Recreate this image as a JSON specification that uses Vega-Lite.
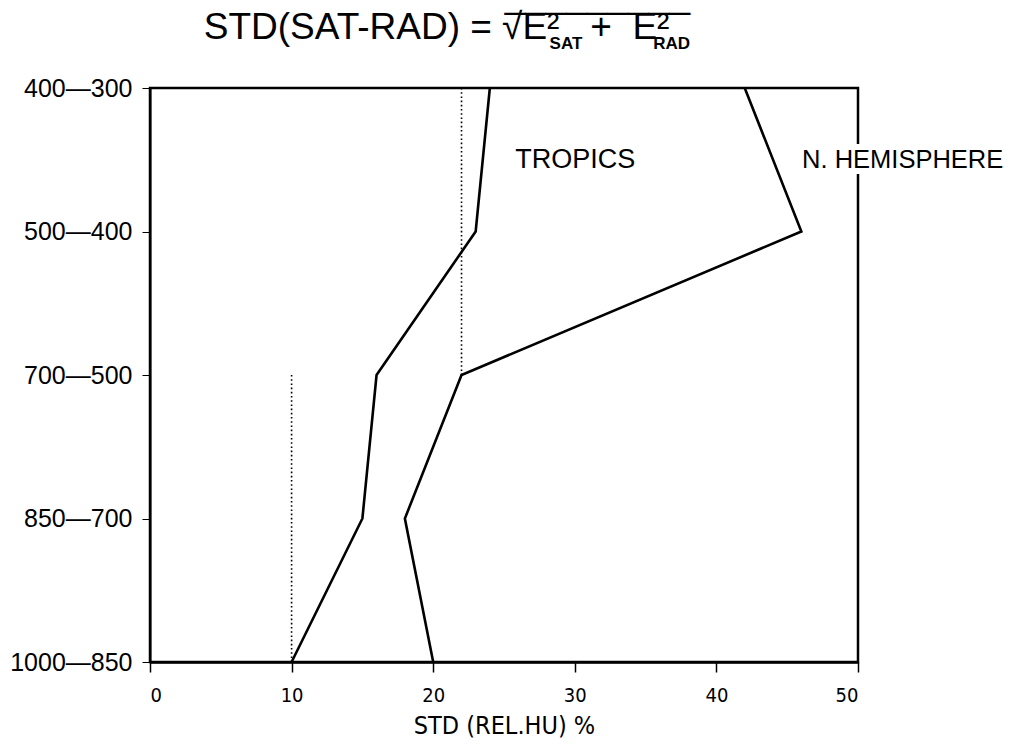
{
  "$schema": "https://vega.github.io/schema/vega-lite/v6.json",
  "width": 708,
  "height": 574,
  "autosize": {"type": "none"},
  "padding": {"left": 150, "top": 88, "right": 168, "bottom": 88},
  "background": "white",
  "title": {
    "text": ["_________", "STD(SAT-RAD) = √E²\u00a0\u00a0\u00a0+\u00a0 E²\u00a0\u00a0\u200b"],
    "subtitle": "SAT\u00a0\u00a0\u00a0\u00a0\u00a0\u00a0\u00a0\u00a0\u00a0\u00a0\u00a0\u00a0\u00a0\u00a0\u00a0RAD",
    "anchor": "end",
    "frame": "group",
    "dx": -168,
    "offset": 23,
    "font": "Liberation Sans",
    "fontSize": 37,
    "lineHeight": 31,
    "fontWeight": "normal",
    "color": "black",
    "subtitleFont": "Liberation Sans",
    "subtitleFontSize": 17,
    "subtitleFontWeight": "bold",
    "subtitleColor": "black",
    "subtitlePadding": -11
  },
  "config": {
    "view": {"stroke": "black", "strokeWidth": 2.5},
    "font": "Liberation Sans"
  },
  "datasets": {
    "profiles": [
      {"region": "TROPICS", "layer": "400—300", "k": 1, "std": 24},
      {"region": "TROPICS", "layer": "500—400", "k": 2, "std": 23},
      {"region": "TROPICS", "layer": "700—500", "k": 3, "std": 16},
      {"region": "TROPICS", "layer": "850—700", "k": 4, "std": 15},
      {"region": "TROPICS", "layer": "1000—850", "k": 5, "std": 10},
      {"region": "N. HEMISPHERE", "layer": "400—300", "k": 1, "std": 42},
      {"region": "N. HEMISPHERE", "layer": "500—400", "k": 2, "std": 46},
      {"region": "N. HEMISPHERE", "layer": "700—500", "k": 3, "std": 22},
      {"region": "N. HEMISPHERE", "layer": "850—700", "k": 4, "std": 18},
      {"region": "N. HEMISPHERE", "layer": "1000—850", "k": 5, "std": 20}
    ],
    "refs": [
      {"ref": "upper", "layer": "400—300", "k": 1, "std": 22},
      {"ref": "upper", "layer": "700—500", "k": 3, "std": 22},
      {"ref": "lower", "layer": "700—500", "k": 3, "std": 10},
      {"ref": "lower", "layer": "1000—850", "k": 5, "std": 10}
    ]
  },
  "layer": [
    {
      "data": {"name": "refs"},
      "mark": {"type": "line", "color": "black", "strokeWidth": 1.6, "strokeDash": [1.6, 2.6]},
      "encoding": {
        "x": {
          "field": "std",
          "type": "quantitative",
          "scale": {"domain": [0, 50], "nice": false, "zero": false},
          "axis": {
            "values": [0, 10, 20, 30, 40, 50],
            "grid": false,
            "domainColor": "black",
            "domainWidth": 2.5,
            "tickColor": "black",
            "tickWidth": 1.5,
            "tickSize": 10,
            "labelFont": "DejaVu Sans Condensed",
            "labelFontSize": 20,
            "labelColor": "black",
            "labelPadding": 13,
            "title": "STD (REL.HU) %",
            "titleFont": "DejaVu Sans Condensed",
            "titleFontSize": 25,
            "titleFontWeight": "normal",
            "titleColor": "black",
            "titlePadding": 8
          }
        },
        "y": {
          "field": "layer",
          "type": "ordinal",
          "sort": null,
          "scale": {
            "type": "point",
            "padding": 0,
            "domain": ["400—300", "500—400", "700—500", "850—700", "1000—850"]
          },
          "axis": {
            "title": null,
            "grid": false,
            "domainColor": "black",
            "domainWidth": 2,
            "tickColor": "black",
            "tickWidth": 1,
            "tickSize": 8,
            "labelFont": "Liberation Sans",
            "labelFontSize": 25,
            "labelColor": "black",
            "labelPadding": 10
          }
        },
        "detail": {"field": "ref"},
        "order": {"field": "k"}
      }
    },
    {
      "data": {"name": "profiles"},
      "mark": {"type": "line", "color": "black", "strokeWidth": 2.6},
      "encoding": {
        "x": {"field": "std", "type": "quantitative"},
        "y": {"field": "layer", "type": "ordinal", "sort": null},
        "detail": {"field": "region"},
        "order": {"field": "k"}
      }
    },
    {
      "data": {"values": [{"label": "TROPICS", "std": 25.8, "layer": "400—300"}]},
      "mark": {"type": "text", "align": "left", "baseline": "middle", "dy": 72, "fontSize": 27, "font": "Liberation Sans", "color": "black"},
      "encoding": {
        "x": {"field": "std", "type": "quantitative"},
        "y": {"field": "layer", "type": "ordinal", "sort": null},
        "text": {"field": "label"}
      }
    },
    {
      "data": {"values": [{"label": "N. HEMISPHERE", "std": 46.05, "layer": "400—300"}]},
      "mark": {"type": "text", "align": "left", "baseline": "middle", "dy": 72, "fontSize": 25.5, "font": "Liberation Sans", "color": "white", "stroke": "white", "strokeWidth": 12},
      "encoding": {
        "x": {"field": "std", "type": "quantitative"},
        "y": {"field": "layer", "type": "ordinal", "sort": null},
        "text": {"field": "label"}
      }
    },
    {
      "data": {"values": [{"label": "N. HEMISPHERE", "std": 46.05, "layer": "400—300"}]},
      "mark": {"type": "text", "align": "left", "baseline": "middle", "dy": 72, "fontSize": 25.5, "font": "Liberation Sans", "color": "black"},
      "encoding": {
        "x": {"field": "std", "type": "quantitative"},
        "y": {"field": "layer", "type": "ordinal", "sort": null},
        "text": {"field": "label"}
      }
    }
  ]
}
